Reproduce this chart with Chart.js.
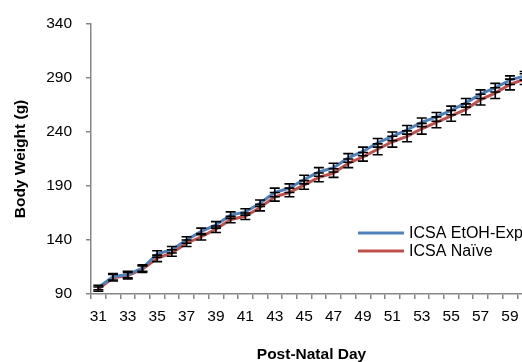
<!DOCTYPE html>
<html>
<head>
<meta charset="utf-8">
<script src="https://cdn.jsdelivr.net/npm/chart.js@4/dist/chart.umd.min.js"></script>
<style>
  html, body { margin: 0; padding: 0; background: #fff; overflow: hidden; }
  #wrap { width: 522px; height: 362px; overflow: hidden; }
  canvas { display: block; }
</style>
</head>
<body>
<div id="wrap"><canvas id="chart" width="545" height="362"></canvas></div>
<script>
// post-natal days on the category axis
var days = ["31", "32", "33", "34", "35", "36", "37", "38", "39", "40",
            "41", "42", "43", "44", "45", "46", "47", "48", "49", "50",
            "51", "52", "53", "54", "55", "56", "57", "58", "59", "60"];

// mean body weight (g) per group
var etohExp = [96, 106, 108, 114, 127, 131, 140, 148, 154, 163,
               166, 174, 184, 188, 196, 203, 207, 216, 222, 230,
               236, 242, 249, 254, 260, 267, 275, 281, 288, 292];
var naive   = [94.5, 105, 107, 113, 123, 128, 137, 143, 150, 159,
               162, 170, 180, 184, 191, 198, 202, 211, 217, 224,
               231, 236, 243, 249, 255, 261, 270, 276, 284, 289];

// standard error of the mean (g)
var etohSem  = [2, 3, 3, 3, 3, 3, 3, 3, 3, 3,
                3, 3, 4, 4, 4, 4, 4, 4, 4, 4,
                4, 4, 4, 4, 4, 4, 4, 4, 4, 4];
var naiveSem = [2, 3, 3, 3, 3, 3, 3, 3, 3, 3,
                3, 3, 4, 4, 4, 4, 4, 4, 4, 5,
                5, 5, 5, 5, 5, 5, 5, 5, 5, 5];

var yTicks = [90, 140, 190, 240, 290, 340];

var FONT = "'Liberation Sans', Arial, sans-serif";
var AXIS = "#868686";

var errorBars = {
    id: "errorBars",
    afterDatasetsDraw: function (chart) {
        var ctx = chart.ctx;
        var y = chart.scales.y;
        var sems = [etohSem, naiveSem];
        ctx.save();
        ctx.strokeStyle = "#000";
        ctx.lineWidth = 1.6;
        chart.data.datasets.forEach(function (ds, i) {
            var meta = chart.getDatasetMeta(i);
            meta.data.forEach(function (pt, j) {
                var top = y.getPixelForValue(ds.data[j] + sems[i][j]);
                var bot = y.getPixelForValue(ds.data[j] - sems[i][j]);
                ctx.beginPath();
                ctx.moveTo(pt.x, top); ctx.lineTo(pt.x, bot);
                ctx.moveTo(pt.x - 5, top); ctx.lineTo(pt.x + 5, top);
                ctx.moveTo(pt.x - 5, bot); ctx.lineTo(pt.x + 5, bot);
                ctx.stroke();
            });
        });
        ctx.restore();
    }
};

// legend sits inside the plot, lower right
var insideLegend = {
    id: "insideLegend",
    afterDraw: function (chart) {
        var ctx = chart.ctx;
        ctx.save();
        ctx.font = "16px " + FONT;
        ctx.textBaseline = "middle";
        chart.data.datasets.forEach(function (ds, i) {
            var ly = 233 + i * 18;
            ctx.strokeStyle = ds.borderColor;
            ctx.lineWidth = 3;
            ctx.beginPath();
            ctx.moveTo(358, ly); ctx.lineTo(404, ly);
            ctx.stroke();
            ctx.fillStyle = "#000";
            ctx.fillText(ds.label, 409, ly + 1);
        });
        ctx.restore();
    }
};

new Chart("chart", {
    type: "line",
    data: {
        labels: days,
        datasets: [{
            label: "ICSA EtOH-Exp",
            data: etohExp,
            borderColor: "#4f81bd",
            borderWidth: 3,
            pointRadius: 0,
            fill: false
        }, {
            label: "ICSA Naïve",
            data: naive,
            borderColor: "#c0504d",
            borderWidth: 3,
            pointRadius: 0,
            fill: false
        }]
    },
    options: {
        responsive: false,
        animation: false,
        layout: {padding: {top: 24, right: 13, left: 0, bottom: 0}},
        plugins: {
            legend: {display: false},
            tooltip: {enabled: false}
        },
        scales: {
            x: {
                type: "category",
                offset: true,
                afterFit: function (s) { s.height = 68; },
                border: {color: AXIS, width: 1.5},
                grid: {offset: true, drawOnChartArea: false, tickLength: 5, color: AXIS, lineWidth: 1.5},
                ticks: {
                    autoSkip: false,
                    maxRotation: 0,
                    padding: 8,
                    color: "#000",
                    font: {family: FONT, size: 15.5},
                    callback: function (v, i) { return i % 2 === 0 ? days[i] : ""; }
                },
                title: {
                    display: true,
                    text: "Post-Natal Day",
                    color: "#000",
                    font: {family: FONT, size: 15.5, weight: "bold"},
                    padding: {top: 0, bottom: -2}
                }
            },
            y: {
                min: 90,
                max: 340,
                afterFit: function (s) { s.width = 91; },
                afterBuildTicks: function (s) {
                    s.ticks = yTicks.map(function (v) { return {value: v}; });
                },
                border: {color: AXIS, width: 1.5},
                grid: {drawOnChartArea: false, tickLength: 5, color: AXIS, lineWidth: 1.5},
                ticks: {
                    padding: 14,
                    color: "#000",
                    font: {family: FONT, size: 15.5}
                },
                title: {
                    display: true,
                    text: "Body Weight (g)",
                    color: "#000",
                    font: {family: FONT, size: 15.5, weight: "bold"},
                    padding: {top: 11, bottom: 0}
                }
            }
        }
    },
    plugins: [errorBars, insideLegend]
});
</script>
</body>
</html>
